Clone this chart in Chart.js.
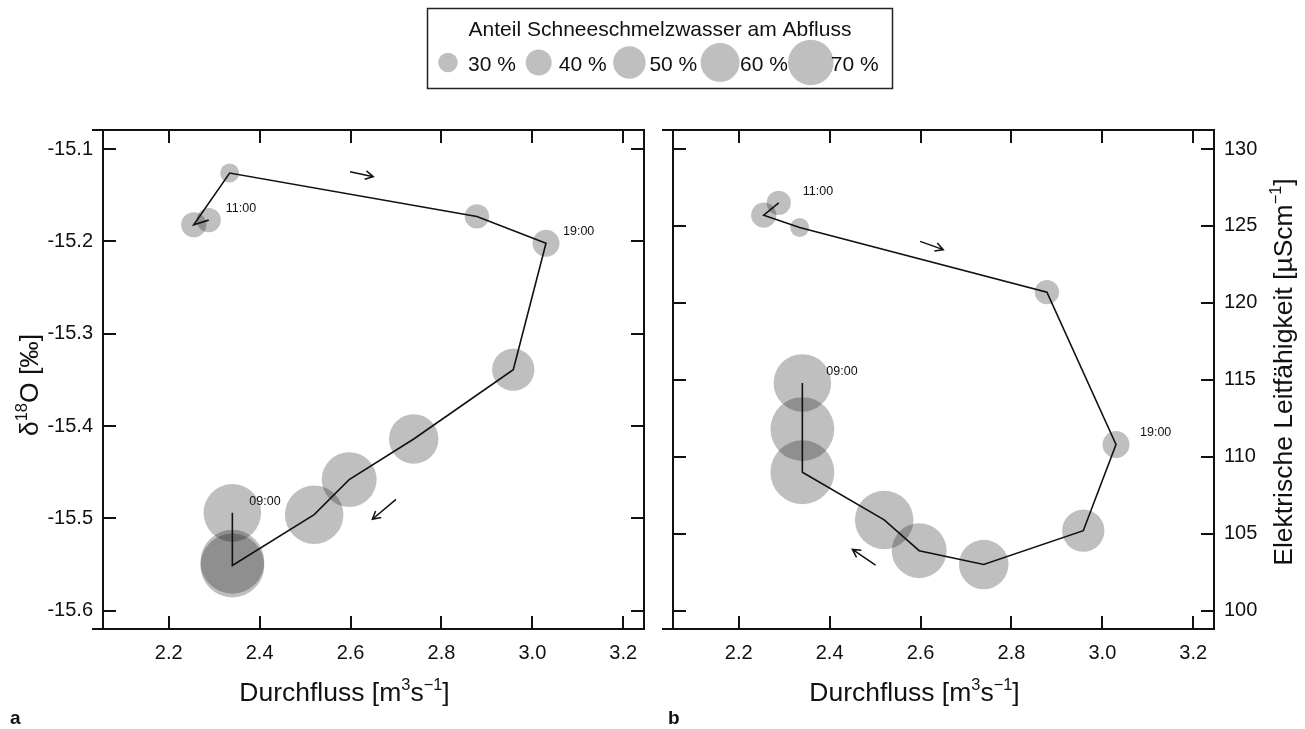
<!DOCTYPE html>
<html>
<head>
<meta charset="utf-8">
<script src="https://cdn.jsdelivr.net/npm/chart.js@4.4.1/dist/chart.umd.min.js"></script>
<style>
  html, body { margin: 0; padding: 0; background: #fff; }
  #wrap { position: relative; width: 1305px; height: 729px; }
  #wrap canvas { position: absolute; left: 0; top: 0; }
</style>
</head>
<body>
<div id="wrap">
  <canvas id="chartA" width="1305" height="729"></canvas>
  <canvas id="chartB" width="1305" height="729"></canvas>
</div>
<script>
// samples every 2 h, from 11:00 until 09:00 the next morning
const times = ['11:00', '13:00', '15:00', '17:00', '19:00', '21:00', '23:00', '01:00', '03:00', '05:00', '07:00', '09:00'];
const labelledTimes = ['11:00', '19:00', '09:00'];

const discharge = [2.288, 2.255, 2.334, 2.878, 3.030, 2.958, 2.739, 2.597, 2.520, 2.340, 2.340, 2.340];
const d18O = [-15.177, -15.182, -15.126, -15.173, -15.202, -15.339, -15.414, -15.458, -15.496, -15.551, -15.547, -15.494];
const conductivity = [126.5, 125.7, 124.9, 120.7, 110.8, 105.2, 103.0, 103.9, 105.9, 109.0, 111.8, 114.8];
const snowmeltShare = [27, 28, 21, 27, 30, 47, 55, 61, 65, 71, 71, 64];

const legendShares = [30, 40, 50, 60, 70];

const dischargeTicks = [2.2, 2.4, 2.6, 2.8, 3.0, 3.2];
const d18OTicks = [-15.6, -15.5, -15.4, -15.3, -15.2, -15.1];
const conductivityTicks = [100, 105, 110, 115, 120, 125, 130];

// direction arrows, [x0, y0, x1, y1] in data units
const arrowsA = [[2.599, -15.1245, 2.650, -15.130], [2.700, -15.4794, 2.648, -15.501]];
const arrowsB = [[2.599, 124.0, 2.650, 123.46], [2.501, 102.97, 2.450, 103.98]];

const FONT = '"Liberation Sans", Arial, Helvetica, sans-serif';
const PLOT_R_PER_PCT = 0.45;    // bubble radius in px per % in the panels
const LEGEND_R_PER_PCT = 0.325; // legend circles are drawn smaller
const BUBBLE_FILL = 'rgba(0, 0, 0, 0.25)';
const TITLE_SIZE = 26.5;

Chart.defaults.font.family = FONT;
Chart.defaults.color = '#111';

function richText(ctx, parts, size, x, y, rot) {
  const supSize = size * 0.62;
  ctx.save();
  ctx.translate(x, y);
  ctx.rotate(rot);
  ctx.fillStyle = '#111';
  ctx.textBaseline = 'alphabetic';
  ctx.textAlign = 'left';
  let w = 0;
  parts.forEach(p => {
    ctx.font = (p.sup ? supSize : size) + 'px ' + FONT;
    w += ctx.measureText(p.t).width;
  });
  let cx = -w / 2;
  parts.forEach(p => {
    ctx.font = (p.sup ? supSize : size) + 'px ' + FONT;
    ctx.fillText(p.t, cx, p.sup ? -size * 0.42 : 0);
    cx += ctx.measureText(p.t).width;
  });
  ctx.restore();
}

function drawArrow(ctx, x0, y0, x1, y1) {
  const ang = Math.atan2(y1 - y0, x1 - x0);
  const h = 9, spread = 0.5;
  ctx.beginPath();
  ctx.moveTo(x0, y0);
  ctx.lineTo(x1, y1);
  ctx.moveTo(x1 - h * Math.cos(ang - spread), y1 - h * Math.sin(ang - spread));
  ctx.lineTo(x1, y1);
  ctx.lineTo(x1 - h * Math.cos(ang + spread), y1 - h * Math.sin(ang + spread));
  ctx.stroke();
}

const panelDeco = {
  id: 'panelDeco',
  afterDraw(chart, args, opts) {
    const { ctx, chartArea: a } = chart;
    const x = chart.scales.x, y = chart.scales.y;
    ctx.save();

    // box with inward ticks
    ctx.strokeStyle = '#111';
    ctx.lineWidth = 2;
    ctx.lineCap = 'square';
    ctx.beginPath();
    ctx.moveTo(a.left - 10, a.top); ctx.lineTo(a.right, a.top);
    ctx.moveTo(a.left - 10, a.bottom); ctx.lineTo(a.right, a.bottom);
    ctx.moveTo(a.left, a.top); ctx.lineTo(a.left, a.bottom);
    ctx.moveTo(a.right, a.top); ctx.lineTo(a.right, a.bottom);
    ctx.stroke();
    ctx.lineCap = 'butt';
    ctx.beginPath();
    x.ticks.forEach(t => {
      const px = Math.round(x.getPixelForValue(t.value));
      ctx.moveTo(px, a.top); ctx.lineTo(px, a.top + 13);
      ctx.moveTo(px, a.bottom); ctx.lineTo(px, a.bottom - 13);
    });
    y.ticks.forEach(t => {
      const py = Math.round(y.getPixelForValue(t.value));
      ctx.moveTo(a.left, py); ctx.lineTo(a.left + 13, py);
      ctx.moveTo(a.right, py); ctx.lineTo(a.right - 13, py);
    });
    ctx.stroke();

    // arrows
    ctx.lineWidth = 1.5;
    opts.arrows.forEach(ar => {
      drawArrow(ctx, x.getPixelForValue(ar[0]), y.getPixelForValue(ar[1]),
        x.getPixelForValue(ar[2]), y.getPixelForValue(ar[3]));
    });

    // time labels
    ctx.fillStyle = '#111';
    ctx.font = '12.5px ' + FONT;
    ctx.textAlign = 'left';
    ctx.textBaseline = 'alphabetic';
    labelledTimes.forEach(tm => {
      const i = times.indexOf(tm);
      const px = x.getPixelForValue(discharge[i]);
      const py = y.getPixelForValue(opts.yValues[i]);
      ctx.fillText(tm, px + opts.labelDx, py - 8);
    });

    // axis titles
    const xc = (a.left + a.right) / 2 - 29;
    richText(ctx, [{ t: 'Durchfluss [m' }, { t: '3', sup: true }, { t: 's' }, { t: '\u22121', sup: true }, { t: ']' }], TITLE_SIZE, xc, 701, 0);
    richText(ctx, opts.yTitle, TITLE_SIZE, opts.yTitleX, opts.yTitleY, -Math.PI / 2);

    // panel letter
    ctx.fillStyle = '#111';
    ctx.font = 'bold 19px ' + FONT;
    ctx.textAlign = 'left';
    ctx.fillText(opts.letter, opts.letterX, 724);

    ctx.restore();
  }
};

const legendBox = {
  id: 'legendBox',
  afterDraw(chart) {
    const ctx = chart.ctx;
    ctx.save();
    ctx.strokeStyle = '#222';
    ctx.lineWidth = 1.5;
    ctx.strokeRect(427.5, 8.5, 465, 80);
    ctx.fillStyle = '#111';
    ctx.font = '21px ' + FONT;
    ctx.textAlign = 'center';
    ctx.textBaseline = 'alphabetic';
    ctx.fillText('Anteil Schneeschmelzwasser am Abfluss', 660, 36);
    ctx.textAlign = 'left';
    legendShares.forEach((v, i) => {
      const cx = 448 + i * 90.7;
      ctx.fillStyle = BUBBLE_FILL;
      ctx.beginPath();
      ctx.arc(cx, 62.5, v * LEGEND_R_PER_PCT, 0, Math.PI * 2);
      ctx.fill();
      ctx.fillStyle = '#111';
      ctx.fillText(v + ' %', cx + 20, 71);
    });
    ctx.restore();
  }
};

function makePanel(canvasId, yValues, yTicks, yMin, yMax, yPos, padding, yAxisWidth, deco, extraPlugins) {
  const decimals = yTicks[0] % 1 === 0 ? 0 : 1;
  return new Chart(document.getElementById(canvasId), {
    type: 'bubble',
    data: {
      datasets: [
        {
          type: 'line',
          data: discharge.map((q, i) => ({ x: q, y: yValues[i] })),
          borderColor: '#111',
          borderWidth: 1.6,
          pointRadius: 0,
          fill: false,
          tension: 0,
          order: 0
        },
        {
          type: 'bubble',
          data: discharge.map((q, i) => ({ x: q, y: yValues[i], r: snowmeltShare[i] * PLOT_R_PER_PCT })),
          backgroundColor: BUBBLE_FILL,
          borderWidth: 0,
          order: 1
        }
      ]
    },
    options: {
      responsive: false,
      animation: false,
      events: [],
      layout: { padding: padding },
      scales: {
        x: {
          type: 'linear',
          position: 'bottom',
          min: 2.0554,
          max: 3.2456,
          afterBuildTicks: s => { s.ticks = dischargeTicks.map(v => ({ value: v })); },
          afterFit: s => { s.height = 100; },
          grid: { display: false, drawTicks: false },
          border: { display: false },
          ticks: { font: { size: 20 }, padding: 12, color: '#111', maxRotation: 0, callback: v => v.toFixed(1) }
        },
        y: {
          type: 'linear',
          position: yPos,
          min: yMin,
          max: yMax,
          afterBuildTicks: s => { s.ticks = yTicks.map(v => ({ value: v })); },
          afterFit: s => { s.width = yAxisWidth; },
          grid: { display: false, drawTicks: false },
          border: { display: false },
          ticks: { font: { size: 20 }, padding: 10, color: '#111', callback: v => v.toFixed(decimals) }
        }
      },
      plugins: {
        legend: { display: false },
        tooltip: { enabled: false },
        panelDeco: deco
      }
    },
    plugins: [panelDeco].concat(extraPlugins)
  });
}

makePanel('chartA', d18O, d18OTicks, -15.6198, -15.0794, 'left',
  { left: 0, top: 130, right: 661, bottom: 0 }, 103,
  {
    arrows: arrowsA, yValues: d18O, labelDx: 17,
    yTitle: [{ t: '\u03B4' }, { t: '18', sup: true }, { t: 'O [\u2030]' }],
    yTitleX: 38, yTitleY: 385, letter: 'a', letterX: 10
  }, [legendBox]);

makePanel('chartB', conductivity, conductivityTicks, 98.812, 131.234, 'right',
  { left: 673, top: 130, right: 0, bottom: 0 }, 91,
  {
    arrows: arrowsB, yValues: conductivity, labelDx: 24,
    yTitle: [{ t: 'Elektrische Leitf\u00E4higkeit [\u00B5Scm' }, { t: '\u22121', sup: true }, { t: ']' }],
    yTitleX: 1292, yTitleY: 372, letter: 'b', letterX: 668
  }, []);
</script>
</body>
</html>
